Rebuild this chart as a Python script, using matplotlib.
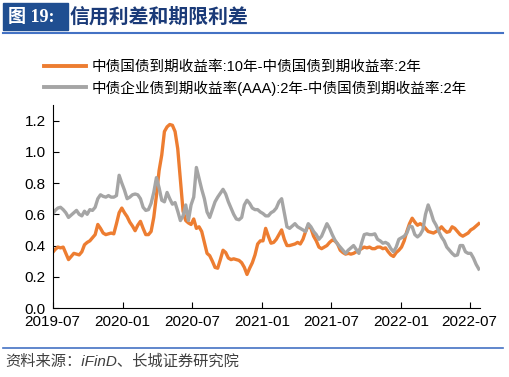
import numpy as np
import pandas as pd
import matplotlib
matplotlib.use("Agg")
import matplotlib.pyplot as plt
import matplotlib.dates as mdates
from matplotlib.patches import Rectangle
from matplotlib.lines import Line2D

plt.rcParams['font.family'] = ['Liberation Sans', 'Noto Sans CJK SC']

# Données hebdomadaires
dates = pd.date_range('2019-07-01', periods=161, freq='7D')

terme = [0.355, 0.375, 0.39, 0.385, 0.39, 0.35, 0.31, 0.33, 0.35, 0.345,
         0.34, 0.36, 0.405, 0.42, 0.43, 0.45, 0.47, 0.535, 0.51, 0.48,
         0.47, 0.475, 0.48, 0.475, 0.54, 0.61, 0.64, 0.61, 0.585, 0.55,
         0.525, 0.495, 0.53, 0.555, 0.51, 0.47, 0.47, 0.49, 0.58, 0.72,
         0.88, 0.98, 1.13, 1.16, 1.175, 1.17, 1.13, 1.02, 0.82, 0.62,
         0.56, 0.545, 0.535, 0.57, 0.51, 0.52, 0.49, 0.42, 0.35, 0.335,
         0.30, 0.26, 0.255, 0.31, 0.37, 0.355, 0.32, 0.31, 0.315, 0.31,
         0.305, 0.29, 0.26, 0.215, 0.255, 0.29, 0.34, 0.41, 0.43, 0.43,
         0.51, 0.46, 0.415, 0.42, 0.44, 0.47, 0.50, 0.44, 0.40, 0.40,
         0.405, 0.41, 0.42, 0.41, 0.44, 0.49, 0.53, 0.51, 0.46, 0.43,
         0.39, 0.38, 0.39, 0.40, 0.42, 0.435, 0.43, 0.41, 0.37, 0.355,
         0.345, 0.35, 0.345, 0.35, 0.36, 0.37, 0.38, 0.39, 0.385, 0.39,
         0.38, 0.38, 0.39, 0.39, 0.38, 0.385, 0.36, 0.34, 0.33, 0.355,
         0.37, 0.39, 0.43, 0.49, 0.54, 0.575, 0.55, 0.53, 0.54, 0.53,
         0.51, 0.49, 0.485, 0.48, 0.49, 0.50, 0.52, 0.50, 0.485, 0.49,
         0.52, 0.51, 0.49, 0.47, 0.46, 0.47, 0.48, 0.50, 0.51, 0.525, 0.54]

credit = [0.60, 0.625, 0.64, 0.645, 0.63, 0.61, 0.58, 0.595, 0.61, 0.625,
          0.60, 0.59, 0.62, 0.60, 0.63, 0.625, 0.645, 0.70, 0.725, 0.715,
          0.71, 0.72, 0.71, 0.71, 0.72, 0.85, 0.80, 0.755, 0.70, 0.71,
          0.725, 0.73, 0.725, 0.70, 0.645, 0.625, 0.63, 0.67, 0.74, 0.835,
          0.77, 0.69, 0.68, 0.74, 0.70, 0.665, 0.675, 0.62, 0.56, 0.59,
          0.66, 0.56, 0.66, 0.71, 0.90, 0.83, 0.76, 0.70, 0.615, 0.58,
          0.63, 0.68, 0.71, 0.735, 0.76, 0.73, 0.68, 0.64, 0.60, 0.57,
          0.565, 0.58, 0.66, 0.69, 0.67, 0.64, 0.63, 0.63, 0.615, 0.605,
          0.59, 0.59, 0.61, 0.62, 0.64, 0.68, 0.70, 0.61, 0.52, 0.51,
          0.525, 0.54, 0.52, 0.51, 0.50, 0.49, 0.54, 0.52, 0.49, 0.47,
          0.44, 0.46, 0.50, 0.54, 0.51, 0.47, 0.435, 0.41, 0.39, 0.37,
          0.35, 0.37, 0.385, 0.40, 0.375, 0.35, 0.415, 0.47, 0.475, 0.47,
          0.47, 0.475, 0.44, 0.43, 0.415, 0.42, 0.41, 0.38, 0.36, 0.39,
          0.44, 0.45, 0.46, 0.48, 0.525, 0.52, 0.47, 0.455, 0.47, 0.50,
          0.60, 0.66, 0.615, 0.56, 0.53, 0.49, 0.455, 0.43, 0.39, 0.37,
          0.35, 0.335, 0.34, 0.40, 0.40, 0.36, 0.35, 0.35, 0.32, 0.28, 0.25]

labels = ['中债国债到期收益率:10年-中债国债到期收益率:2年',
          '中债企业债到期收益率(AAA):2年-中债国债到期收益率:2年']
couleurs = ['#ED7D31', '#A5A5A5']

fig = plt.figure(figsize=(5.1, 3.77), dpi=100)
ax = fig.add_axes([0.103, 0.183, 0.838, 0.5385])

ax.plot(dates, terme, color=couleurs[0], lw=2.4)
ax.plot(dates, credit, color=couleurs[1], lw=2.4)

ax.set_ylim(0, 1.3)
ax.set_yticks(np.arange(0, 1.21, 0.2))
ax.yaxis.set_major_formatter(plt.FormatStrFormatter('%.1f'))
ax.set_xlim(pd.Timestamp('2019-07-01'), pd.Timestamp('2022-07-28'))
ax.xaxis.set_major_locator(mdates.MonthLocator(bymonth=[1, 7]))
ax.xaxis.set_major_formatter(mdates.DateFormatter('%Y-%m'))
ax.tick_params(direction='in', length=4, labelsize=11, pad=5)
ax.spines['top'].set_visible(False)
ax.spines['right'].set_visible(False)

# Légende
handles = [Line2D([], [], color=c, lw=2.8) for c in couleurs]
ax.legend(handles, labels, loc='upper left', bbox_to_anchor=(37 / 510, 0.86),
          bbox_transform=fig.transFigure, frameon=False, fontsize=10.5,
          borderpad=0, handlelength=2.85, handletextpad=0.4, labelspacing=0.42)

# Titre
fig.patches.append(Rectangle((3 / 510, 1 - 30 / 377), 65 / 510, 27 / 377,
                             transform=fig.transFigure, color='#1F4E91'))
fig.text(8 / 510, 1 - 17 / 377, '图 19:', color='white', fontsize=13,
         fontweight='bold', va='center',
         family=['Liberation Serif', 'Noto Sans CJK SC'])
fig.text(70 / 510, 1 - 17 / 377, '信用利差和期限利差', color='#1A3A78',
         fontsize=14.3, fontweight='bold', va='center')
fig.add_artist(Line2D([3 / 510, 503 / 510], [1 - 33 / 377, 1 - 33 / 377],
                      transform=fig.transFigure, color='#4472C4', lw=1.5))

# Source
fig.add_artist(Line2D([3 / 510, 503 / 510], [1 - 348 / 377, 1 - 348 / 377],
                      transform=fig.transFigure, color='#4472C4', lw=1.2))
fig.text(5 / 510, 1 - 362 / 377, '资料来源：iFinD、长城证券研究院', color='#404040',
         fontsize=11, style='italic', va='center')

fig.savefig('out.png', dpi=100)
